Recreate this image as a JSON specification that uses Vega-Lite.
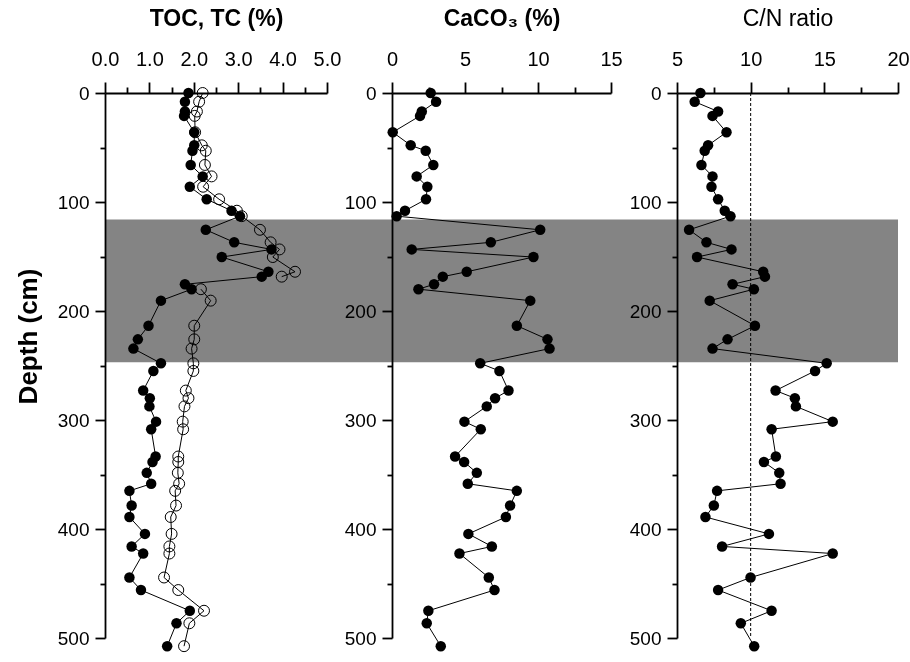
{
  "$schema": "https://vega.github.io/schema/vega-lite/v6.json",
  "width": 793,
  "height": 545,
  "autosize": {"type": "none"},
  "padding": {"left": 105, "top": 93, "right": 12, "bottom": 24},
  "background": "white",
  "config": {
    "view": {"stroke": null},
    "font": "Liberation Sans",
    "axis": {
      "zindex": 2,
      "grid": false,
      "labelFlush": false,
      "labelOverlap": false,
      "domainColor": "black",
      "domainWidth": 1.8,
      "tickColor": "black",
      "tickWidth": 1.8,
      "labelColor": "black",
      "labelFontSize": 20,
      "labelFont": "Liberation Sans",
      "titleColor": "black",
      "titleFont": "Liberation Sans"
    }
  },
  "datasets": {
    "band": [{"top": 116, "bottom": 247}],
    "refline": [{"cn": 10}],
    "core": [
      {"depth": 0, "toc": 1.88, "tc": 2.2, "caco3": 2.65, "cn": 6.59},
      {"depth": 8, "toc": 1.8, "tc": 2.12, "caco3": 3.02, "cn": 6.2},
      {"depth": 17, "toc": 1.8, "tc": 2.07, "caco3": 2.04, "cn": 7.79},
      {"depth": 21, "toc": 1.78, "tc": 2.02, "caco3": 1.92, "cn": 7.41},
      {"depth": 36, "toc": 2.01, "tc": 2.03, "caco3": 0.05, "cn": 8.36},
      {"depth": 48, "toc": 2.01, "tc": 2.18, "caco3": 1.28, "cn": 7.11},
      {"depth": 53, "toc": 1.97, "tc": 2.27, "caco3": 2.31, "cn": 6.88},
      {"depth": 66, "toc": 1.93, "tc": 2.25, "caco3": 2.83, "cn": 6.66},
      {"depth": 76.5, "toc": 2.2, "tc": 2.4, "caco3": 1.69, "cn": 7.41},
      {"depth": 86, "toc": 1.91, "tc": 2.21, "caco3": 2.42, "cn": 7.34},
      {"depth": 97.5, "toc": 2.29, "tc": 2.57, "caco3": 2.33, "cn": 7.79},
      {"depth": 108, "toc": 2.85, "tc": 2.97, "caco3": 0.89, "cn": 8.24},
      {"depth": 113, "toc": 3.04, "tc": 3.08, "caco3": 0.32, "cn": 8.63},
      {"depth": 125.5, "toc": 2.27, "tc": 3.49, "caco3": 10.15, "cn": 5.82},
      {"depth": 137, "toc": 2.91, "tc": 3.73, "caco3": 6.77, "cn": 7.0},
      {"depth": 143.5, "toc": 3.75, "tc": 3.93, "caco3": 1.35, "cn": 8.7},
      {"depth": 150.5, "toc": 2.63, "tc": 3.78, "caco3": 9.69, "cn": 6.36},
      {"depth": 164, "toc": 3.68, "tc": 4.28, "caco3": 5.12, "cn": 10.85},
      {"depth": 168.5, "toc": 3.53, "tc": 3.98, "caco3": 3.48, "cn": 10.97},
      {"depth": 175.5, "toc": 1.8, "tc": null, "caco3": 2.88, "cn": 8.77},
      {"depth": 180, "toc": 1.95, "tc": 2.16, "caco3": 1.81, "cn": 10.22},
      {"depth": 190.5, "toc": 1.26, "tc": 2.38, "caco3": 9.47, "cn": 7.22},
      {"depth": 213.5, "toc": 0.98, "tc": 2.01, "caco3": 8.55, "cn": 10.29},
      {"depth": 226, "toc": 0.74, "tc": 2.01, "caco3": 10.65, "cn": 8.43},
      {"depth": 234.5, "toc": 0.64, "tc": 1.95, "caco3": 10.79, "cn": 7.41},
      {"depth": 248, "toc": 1.26, "tc": 1.99, "caco3": 6.04, "cn": 15.16},
      {"depth": 255, "toc": 1.09, "tc": 1.99, "caco3": 7.36, "cn": 14.37},
      {"depth": 273, "toc": 0.86, "tc": 1.82, "caco3": 7.98, "cn": 11.69},
      {"depth": 280, "toc": 1.01, "tc": 1.88, "caco3": 7.06, "cn": 13.0},
      {"depth": 287.5, "toc": 1.0, "tc": 1.79, "caco3": 6.49, "cn": 13.07},
      {"depth": 301.5, "toc": 1.15, "tc": 1.75, "caco3": 4.96, "cn": 15.57},
      {"depth": 308.5, "toc": 1.04, "tc": 1.76, "caco3": 6.08, "cn": 11.42},
      {"depth": 333.5, "toc": 1.14, "tc": 1.65, "caco3": 4.32, "cn": 11.71},
      {"depth": 338.5, "toc": 1.07, "tc": 1.65, "caco3": 4.94, "cn": 10.9},
      {"depth": 348.5, "toc": 0.94, "tc": 1.64, "caco3": 5.81, "cn": 11.94},
      {"depth": 358.5, "toc": 1.04, "tc": 1.67, "caco3": 5.19, "cn": 12.03},
      {"depth": 365, "toc": 0.55, "tc": 1.58, "caco3": 8.55, "cn": 7.72},
      {"depth": 378.5, "toc": 0.6, "tc": 1.6, "caco3": 8.09, "cn": 7.5},
      {"depth": 389, "toc": 0.55, "tc": 1.48, "caco3": 7.8, "cn": 6.93},
      {"depth": 404.5, "toc": 0.9, "tc": 1.5, "caco3": 5.23, "cn": 11.24},
      {"depth": 416, "toc": 0.6, "tc": 1.45, "caco3": 6.84, "cn": 8.06},
      {"depth": 422.5, "toc": 0.86, "tc": 1.45, "caco3": 4.62, "cn": 15.57},
      {"depth": 444.5, "toc": 0.55, "tc": 1.33, "caco3": 6.63, "cn": 9.99},
      {"depth": 456, "toc": 0.81, "tc": 1.65, "caco3": 7.02, "cn": 7.79},
      {"depth": 475, "toc": 1.91, "tc": 2.23, "caco3": 2.49, "cn": 11.42},
      {"depth": 486.5, "toc": 1.61, "tc": 1.9, "caco3": 2.38, "cn": 9.33},
      {"depth": 507.5, "toc": 1.4, "tc": 1.78, "caco3": 3.34, "cn": 10.24}
    ]
  },
  "layer": [
    {
      "data": {"name": "band"},
      "mark": {"type": "rect", "color": "#848484", "blend": "multiply"},
      "encoding": {
        "y": {"field": "top", "type": "quantitative", "scale": {"domain": [0, 500], "reverse": true, "nice": false}, "axis": null},
        "y2": {"field": "bottom"}
      }
    },
    {
      "data": {"name": "core"},
      "encoding": {
        "y": {
          "field": "depth", "type": "quantitative",
          "scale": {"domain": [0, 500], "reverse": true, "nice": false},
          "axis": {
            "orient": "left", "offset": 0, "zindex": 2,
            "values": [0, 50, 100, 150, 200, 250, 300, 350, 400, 450, 500],
            "tickSize": {"condition": {"test": "datum.value % 100 != 0", "value": 5}, "value": 10},
            "labelExpr": "datum.value % 100 == 0 ? datum.label : ''",
            "labelPadding": 6, "labelFontSize": 19,
            "title": "Depth (cm)", "titleFontSize": 26, "titleFontWeight": "bold", "titlePadding": 16, "titleY": 243
          }
        },
        "order": {"field": "depth", "type": "quantitative"}
      },
      "layer": [
        {
          "mark": {"type": "line", "color": "black", "strokeWidth": 1},
          "encoding": {"x": {"field": "tc", "type": "quantitative", "scale": {"domain": [0, 5], "range": [0, 222], "nice": false, "zero": false},
            "axis": {"orient": "top", "zindex": 2, "values": [0, 0.5, 1, 1.5, 2, 2.5, 3, 3.5, 4, 4.5, 5],
              "labelExpr": "datum.value % 1 == 0 ? format(datum.value, '.1f') : ''",
              "tickSize": {"condition": {"test": "datum.value % 1 != 0", "value": 6}, "value": 11},
              "labelPadding": 13, "title": "TOC, TC (%)", "titleFontSize": 23, "titleFontWeight": "bold", "titlePadding": 19}}}
        },
        {
          "mark": {"type": "point", "filled": false, "color": "black", "size": 120, "strokeWidth": 1, "opacity": 1},
          "encoding": {"x": {"field": "tc", "type": "quantitative"}}
        },
        {
          "mark": {"type": "line", "color": "black", "strokeWidth": 1},
          "encoding": {"x": {"field": "toc", "type": "quantitative"}}
        },
        {
          "mark": {"type": "circle", "color": "black", "size": 110, "opacity": 1},
          "encoding": {"x": {"field": "toc", "type": "quantitative"}}
        }
      ]
    },
    {
      "data": {"name": "core"},
      "encoding": {
        "y": {
          "field": "depth", "type": "quantitative",
          "scale": {"domain": [0, 500], "reverse": true, "nice": false},
          "axis": {
            "orient": "left", "offset": -287, "zindex": 2,
            "values": [0, 50, 100, 150, 200, 250, 300, 350, 400, 450, 500],
            "tickSize": {"condition": {"test": "datum.value % 100 != 0", "value": 5}, "value": 10},
            "labelExpr": "datum.value % 100 == 0 ? datum.label : ''",
            "labelPadding": 6, "labelFontSize": 19,
            "title": null
          }
        },
        "x": {"field": "caco3", "type": "quantitative", "scale": {"domain": [0, 15], "range": [287, 506], "nice": false, "zero": false},
          "axis": {"orient": "top", "zindex": 2, "values": [0, 2.5, 5, 7.5, 10, 12.5, 15],
            "labelExpr": "datum.value % 5 == 0 ? datum.label : ''",
            "tickSize": {"condition": {"test": "datum.value % 5 != 0", "value": 6}, "value": 11},
            "labelPadding": 13, "title": "CaCO₃ (%)", "titleFontSize": 23, "titleFontWeight": "bold", "titlePadding": 19}},
        "order": {"field": "depth", "type": "quantitative"}
      },
      "layer": [
        {"mark": {"type": "line", "color": "black", "strokeWidth": 1}},
        {"mark": {"type": "circle", "color": "black", "size": 110, "opacity": 1}}
      ]
    },
    {
      "layer": [
        {
          "data": {"name": "refline"},
          "mark": {"type": "rule", "color": "black", "strokeWidth": 1, "strokeDash": [3, 2]},
          "encoding": {"x": {"field": "cn", "type": "quantitative"}}
        },
        {
          "data": {"name": "core"},
          "mark": {"type": "line", "color": "black", "strokeWidth": 1},
          "encoding": {
            "x": {"field": "cn", "type": "quantitative", "scale": {"domain": [5, 20], "range": [572, 793], "nice": false, "zero": false},
              "axis": {"orient": "top", "zindex": 2, "values": [5, 7.5, 10, 12.5, 15, 17.5, 20],
                "labelExpr": "datum.value % 5 == 0 ? datum.label : ''",
                "tickSize": {"condition": {"test": "datum.value % 5 != 0", "value": 6}, "value": 11},
                "labelPadding": 13, "title": "C/N ratio", "titleFontSize": 23, "titleFontWeight": "normal", "titlePadding": 19}},
            "y": {
              "field": "depth", "type": "quantitative",
              "scale": {"domain": [0, 500], "reverse": true, "nice": false},
              "axis": {
                "orient": "left", "offset": -572, "zindex": 2,
                "values": [0, 50, 100, 150, 200, 250, 300, 350, 400, 450, 500],
                "tickSize": {"condition": {"test": "datum.value % 100 != 0", "value": 5}, "value": 10},
                "labelExpr": "datum.value % 100 == 0 ? datum.label : ''",
                "labelPadding": 6, "labelFontSize": 19,
                "title": null
              }
            },
            "order": {"field": "depth", "type": "quantitative"}
          }
        },
        {
          "data": {"name": "core"},
          "mark": {"type": "circle", "color": "black", "size": 110, "opacity": 1},
          "encoding": {
            "x": {"field": "cn", "type": "quantitative"},
            "y": {"field": "depth", "type": "quantitative"}
          }
        }
      ]
    }
  ],
  "resolve": {"scale": {"x": "independent", "y": "independent"}, "axis": {"x": "independent", "y": "independent"}}
}
